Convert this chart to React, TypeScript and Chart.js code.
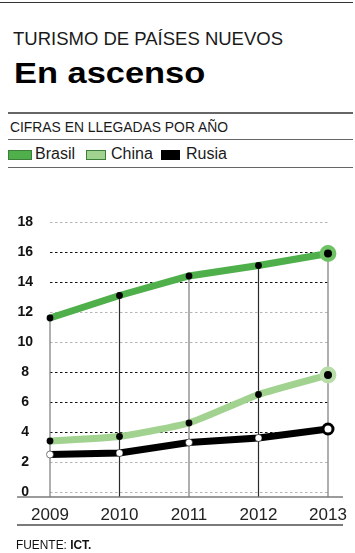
import React, { useEffect, useLayoutEffect, useRef } from "react";
import { Chart, registerables } from "chart.js";

Chart.register(...registerables);

const years = ["2009", "2010", "2011", "2012", "2013"];
const brasil = [11.6, 13.1, 14.4, 15.1, 15.9];
const china = [3.4, 3.7, 4.6, 6.5, 7.8];
const rusia = [2.5, 2.6, 3.3, 3.6, 4.2];
const yTicks = [0, 2, 4, 6, 8, 10, 12, 14, 16, 18];
const darkGridValues = [16, 14, 8, 6, 4];

const title = "TURISMO DE PAÍSES NUEVOS";
const headline = "En ascenso";
const subtitle = "CIFRAS EN LLEGADAS POR AÑO";
const seriesNames = ["Brasil", "China", "Rusia"];

const C_BRASIL = "#4fb04b";
const C_BRASIL_HALO = "#6fc264";
const C_CHINA = "#a2d290";
const C_CHINA_HALO = "#b9dda9";
const C_RUSIA = "#000000";

const FONT = "'Liberation Sans', Arial, sans-serif";

function FitText({ width, style, children }: { width: number; style: React.CSSProperties; children: React.ReactNode }) {
  const ref = useRef<HTMLSpanElement>(null);
  useLayoutEffect(() => {
    const el = ref.current;
    if (!el) return;
    el.style.transform = "none";
    const w = el.offsetWidth;
    if (w > 0) el.style.transform = `scaleX(${width / w})`;
  });
  return (
    <span
      ref={ref}
      style={{
        position: "absolute",
        whiteSpace: "nowrap",
        transformOrigin: "left top",
        display: "inline-block",
        ...style,
      }}
    >
      {children}
    </span>
  );
}

const dropLines = {
  id: "dropLines",
  beforeDatasetsDraw(chart: any) {
    const { ctx, scales, chartArea } = chart;
    const xs = scales.x;
    const ys = scales.y;
    const base = chartArea.bottom + 5;
    ctx.save();
    brasil.forEach((v, i) => {
      const x = xs.getPixelForValue(i);
      const y = ys.getPixelForValue(v);
      ctx.beginPath();
      ctx.strokeStyle = i % 2 === 1 ? "#2a2a2a" : "#7a7a7a";
      ctx.lineWidth = 1.2;
      ctx.moveTo(x, y);
      ctx.lineTo(x, base);
      ctx.stroke();
    });
    ctx.beginPath();
    ctx.strokeStyle = "#7a7a7a";
    ctx.lineWidth = 1.5;
    ctx.moveTo(17, base);
    ctx.lineTo(343, base);
    ctx.stroke();
    ctx.restore();
  },
};

function LineChart() {
  const ref = useRef<HTMLCanvasElement>(null);
  useEffect(() => {
    if (!ref.current) return;
    const last = (a: any, b: any) => years.map((_, i) => (i === years.length - 1 ? b : a));
    const chart = new Chart(ref.current, {
      type: "line",
      data: {
        labels: years,
        datasets: [
          {
            label: seriesNames[0],
            data: brasil,
            borderColor: C_BRASIL,
            borderWidth: 7,
            pointRadius: last(3.4, 6.2),
            pointBackgroundColor: "#000",
            pointBorderColor: last("#000", C_BRASIL_HALO),
            pointBorderWidth: last(0, 4.4),
            tension: 0,
          },
          {
            label: seriesNames[1],
            data: china,
            borderColor: C_CHINA,
            borderWidth: 7,
            pointRadius: last(3.4, 6.2),
            pointBackgroundColor: "#000",
            pointBorderColor: last("#000", C_CHINA_HALO),
            pointBorderWidth: last(0, 4.4),
            tension: 0.15,
          },
          {
            label: seriesNames[2],
            data: rusia,
            borderColor: C_RUSIA,
            borderWidth: 7,
            pointRadius: last(3.5, 5),
            pointBackgroundColor: "#fff",
            pointBorderColor: "#000",
            pointBorderWidth: last(0.5, 3),
            tension: 0,
          },
        ],
      },
      options: {
        animation: false,
        responsive: false,
        events: [],
        layout: { padding: { top: 52, right: 27, left: 0, bottom: 0 } },
        plugins: { legend: { display: false }, tooltip: { enabled: false } },
        scales: {
          x: {
            offset: false,
            grid: { display: false },
            border: { display: false },
            afterFit: (s: any) => {
              s.height = 33;
            },
            ticks: {
              color: "#222",
              padding: 5,
              font: { family: FONT, size: 17 },
              maxRotation: 0,
            },
          },
          y: {
            min: 0,
            max: 18,
            afterBuildTicks: (s: any) => {
              s.ticks = yTicks.map((v) => ({ value: v }));
            },
            afterFit: (s: any) => {
              s.width = 50;
            },
            border: { display: false, dash: [2.5, 2.5] },
            grid: {
              drawTicks: false,
              lineWidth: 1,
              color: (c: any) => (darkGridValues.includes(c.tick?.value) ? "#111" : "#b5b5b5"),
            },
            ticks: {
              crossAlign: "center",
              padding: 17,
              color: "#111",
              font: { family: FONT, size: 14, weight: "bold" },
            },
          },
        },
      },
      plugins: [dropLines],
    } as any);
    return () => chart.destroy();
  }, []);
  return <canvas ref={ref} width={355} height={355} style={{ display: "block" }} />;
}

const hr = (top: number, left: number, right: number, color = "#666", h = 1.5): React.CSSProperties => ({
  position: "absolute",
  top,
  left,
  width: right - left,
  height: h,
  background: color,
});

export default function App() {
  const legendColors = [C_BRASIL, C_CHINA, C_RUSIA];
  const legendBoxX = [8, 86, 161];
  const legendBoxW = [22, 18, 17];
  const legendTextX = [35, 111, 186];
  return (
    <div
      style={{
        position: "absolute",
        left: 0,
        top: 0,
        width: 355,
        height: 553,
        background: "#fff",
        fontFamily: FONT,
        color: "#111",
        overflow: "hidden",
      }}
    >
      <div style={hr(2, 0, 353, "#333", 1)} />
      <FitText width={270} style={{ left: 13, top: 30, fontSize: 18.5, lineHeight: "18.5px", color: "#1a1a1a" }}>
        {title}
      </FitText>
      <FitText width={191} style={{ left: 14, top: 58.5, fontSize: 29, lineHeight: "29px", fontWeight: "bold", color: "#000" }}>
        {headline}
      </FitText>
      <div style={hr(112, 8, 353)} />
      <FitText width={218} style={{ left: 10, top: 120, fontSize: 14.5, lineHeight: "14.5px", color: "#1a1a1a" }}>
        {subtitle}
      </FitText>
      <div style={hr(138.5, 8, 353)} />
      {seriesNames.map((n, i) => (
        <React.Fragment key={n}>
          <div
            style={{
              position: "absolute",
              left: legendBoxX[i],
              top: 149.5,
              width: legendBoxW[i],
              height: 8,
              background: legendColors[i],
              border: `1px solid ${i === 2 ? "#000" : "#3d7f3a"}`,
            }}
          />
          <span
            style={{
              position: "absolute",
              left: legendTextX[i],
              top: 146,
              fontSize: 16,
              lineHeight: "16px",
              whiteSpace: "nowrap",
              color: "#1a1a1a",
            }}
          >
            {n}
          </span>
        </React.Fragment>
      ))}
      <div style={hr(166.5, 8, 353)} />
      <div style={{ position: "absolute", left: 0, top: 170, width: 355, height: 355 }}>
        <LineChart />
      </div>
      <div style={hr(524, 17, 343, "#7a7a7a")} />
      <FitText width={75} style={{ left: 16, top: 538, fontSize: 13, lineHeight: "13px", color: "#111" }}>
        FUENTE: <b>ICT.</b>
      </FitText>
    </div>
  );
}
